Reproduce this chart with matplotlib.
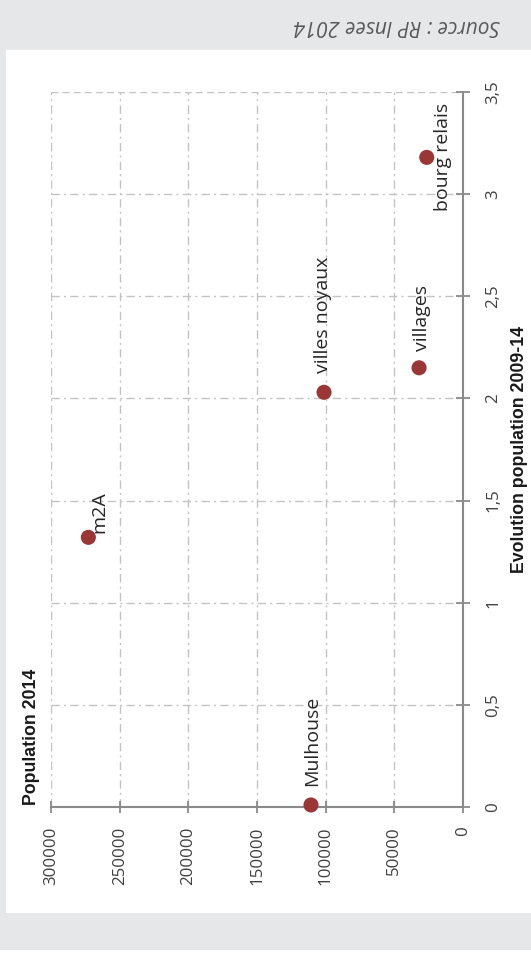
import matplotlib
matplotlib.use("Agg")
import matplotlib.pyplot as plt
from matplotlib.ticker import FixedLocator, FuncFormatter

# ---- data ----
names = ["Mulhouse", "m2A", "villes noyaux", "villages", "bourg relais"]
population_2014 = [110700, 272800, 101200, 32000, 26400]
evolution_2009_14 = [0.01, 1.32, 2.03, 2.15, 3.18]
pop_ticks = [0, 50000, 100000, 150000, 200000, 250000, 300000]
evo_ticks = [0, 0.5, 1, 1.5, 2, 2.5, 3, 3.5]
title_pop = "Population 2014"
title_evo = "Evolution population 2009-14"
source = "Source : RP Insee 2014"
# label offsets in pixels (dx, dy) and vertical alignment
label_offsets = [(1, 19, "bottom"), (11, 4, "bottom"), (-1, 19, "bottom"),
                 (3, 17, "bottom"), (16, 0, "center")]

W, H, DPI = 531, 964, 100
fig = plt.figure(figsize=(W / DPI, H / DPI), dpi=DPI)
fig.patch.set_facecolor("#e6e7e9")
# white panel
fig.add_artist(plt.Rectangle((6 / W, 1 - 913 / H), 1 - 6 / W, (913 - 50) / H,
                             transform=fig.transFigure, facecolor="white",
                             edgecolor="none", zorder=0))
fig.add_artist(plt.Rectangle((0, 0), 1, 1 - 950 / H,
                             transform=fig.transFigure, facecolor="white",
                             edgecolor="none", zorder=0))

ax = fig.add_axes([51 / W, 1 - 807 / H, (463 - 51) / W, (807 - 92) / H])
ax.set_facecolor("none")
ax.set_xlim(max(pop_ticks), min(pop_ticks))
ax.set_ylim(min(evo_ticks), max(evo_ticks))

ax.xaxis.set_major_locator(FixedLocator(pop_ticks))
ax.yaxis.set_major_locator(FixedLocator(evo_ticks))
ax.xaxis.set_major_formatter(FuncFormatter(lambda v, p: f"{int(v)}"))
ax.yaxis.set_major_formatter(FuncFormatter(lambda v, p: (f"{v:g}").replace(".", ",")))

ax.yaxis.tick_right()
for s in ["left", "top"]:
    ax.spines[s].set_visible(False)
for s in ["right", "bottom"]:
    ax.spines[s].set_color("#8a8a8a")
    ax.spines[s].set_linewidth(1.5)

ax.tick_params(axis="x", direction="inout", length=8, width=1.3, color="#8a8a8a",
               pad=10, labelsize=12.2, labelcolor="#404040", labelrotation=90)
ax.tick_params(axis="y", direction="inout", length=10, width=1.3, color="#8a8a8a",
               pad=11, labelsize=12.2, labelcolor="#404040", labelrotation=90)
for lab in ax.get_xticklabels() + ax.get_yticklabels():
    lab.set_fontfamily("Open Sans")
for lab in ax.get_yticklabels():
    lab.set_va("center")

ax.grid(True, axis="both", color="#c3c3c3", linewidth=1.0,
        linestyle=(0, (6, 3, 1.5, 3)), zorder=1)
ax.set_axisbelow(True)
ygl = ax.get_ygridlines()
ygl[-1].set_linestyle((0, (5, 3)))

ax.scatter(population_2014, evolution_2009_14, s=118, color="#9a3636",
           edgecolors="none", zorder=3, clip_on=False)

for n, x, y, (dx, dy, va) in zip(names, population_2014, evolution_2009_14, label_offsets):
    ax.annotate(n, (x, y), xytext=(dx, dy), textcoords="offset pixels",
                rotation=90, ha="center", va=va, fontsize=14, color="#262626",
                fontfamily="Open Sans", zorder=4)

fig.text(32 / W, 1 - 805 / H, title_pop, rotation=90, ha="center", va="bottom",
         fontsize=12.8, fontweight="bold", fontfamily="Liberation Sans", color="#1a1a1a")
fig.text(520 / W, 1 - 449.5 / H, title_evo, rotation=90, ha="center", va="center",
         fontsize=12.8, fontweight="bold", fontfamily="Liberation Sans", color="#1a1a1a")
fig.text(500 / W, 1 - 25 / H, source, rotation=180, ha="right", va="center",
         fontsize=15, fontstyle="italic", fontfamily="Open Sans", color="#595959")

fig.savefig("out.png", dpi=DPI, facecolor=fig.get_facecolor())
